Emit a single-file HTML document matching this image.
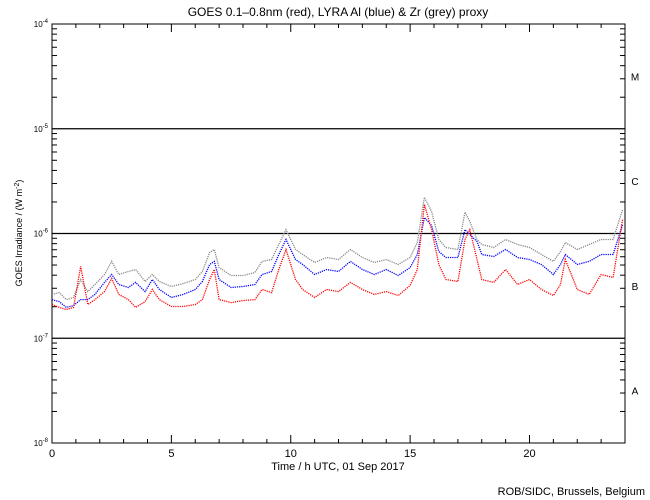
<!DOCTYPE html>
<html><head><meta charset="utf-8"><style>
body{margin:0;background:#fff;width:650px;height:500px;overflow:hidden}
svg{display:block;font-family:"Liberation Sans",sans-serif}
</style></head><body>
<svg id="chart" width="650" height="500">
<text x="338" y="16" font-size="12" text-anchor="middle">GOES 0.1–0.8nm (red), LYRA Al (blue) &amp; Zr (grey) proxy</text>
<text transform="translate(22,233) rotate(-90)" font-size="9" text-anchor="middle">GOES Irradiance / (W m<tspan dy="-3" font-size="7">-2</tspan><tspan dy="3">)</tspan></text>
<text x="338" y="470" font-size="11" text-anchor="middle">Time / h UTC, 01 Sep 2017</text>
<text x="645" y="495" font-size="11" text-anchor="end">ROB/SIDC, Brussels, Belgium</text>
<g id="axes"></g>
<g id="series"></g>
</svg>
<script>
const times=[0,0.3,0.6,0.9,1.2,1.5,1.8,2.2,2.5,2.8,3.2,3.5,3.9,4.2,4.5,5,5.5,6,6.3,6.6,6.8,7,7.5,8,8.5,8.8,9.2,9.5,9.8,10.2,10.5,11,11.5,12,12.5,13,13.5,14,14.5,15,15.3,15.6,15.9,16.2,16.5,17,17.3,17.5,17.8,18,18.5,19,19.5,20,20.5,21,21.3,21.5,22,22.5,23,23.5,23.9];
// values in units of 1e-7 W/m^2
const goesRed=[2.10,1.97,1.88,1.97,4.84,2.10,2.34,2.79,3.72,2.62,2.34,1.97,2.24,2.92,2.34,2.01,2.01,2.10,2.34,3.64,4.53,2.34,2.19,2.29,2.34,2.92,2.73,4.53,7.03,3.64,2.92,2.45,2.92,2.79,3.41,2.92,2.62,2.79,2.56,3.19,4.53,18.9,10.9,5.06,3.64,3.48,8.77,10.9,5.65,3.64,3.41,4.53,3.26,3.64,2.92,2.56,3.26,5.65,2.92,2.62,4.06,3.80,13.6];
const lyraAl=[2.34,2.24,1.97,2.05,2.34,2.34,2.62,3.41,4.06,3.26,3.05,3.41,2.79,3.64,2.92,2.45,2.62,2.92,3.48,5.06,5.41,3.64,3.05,3.12,3.26,4.06,4.34,6.30,8.77,5.65,5.06,4.06,4.53,4.34,5.41,4.53,4.06,4.53,3.97,4.73,6.30,14.2,11.9,6.73,5.90,5.90,10.9,9.78,8.39,6.30,6.03,7.03,5.90,5.65,5.06,4.06,5.06,6.30,5.06,5.41,6.30,6.30,12.2];
const lyraZr=[2.62,2.73,2.34,2.45,3.64,2.79,3.26,4.06,5.41,4.06,4.34,4.53,3.48,4.06,3.48,3.12,3.33,3.64,4.34,6.59,7.03,4.73,3.97,3.97,4.24,5.41,5.65,7.85,10.9,7.03,6.30,5.29,5.90,5.65,7.03,5.90,5.29,5.65,5.06,5.90,8.21,22.1,16.2,8.77,7.35,7.03,16.0,13.0,8.77,7.85,7.35,8.77,7.85,7.35,6.30,5.41,6.73,8.21,7.03,7.85,8.77,8.77,16.9];
const xTicks=[0,5,10,15,20];
const yExps=[-8,-7,-6,-5,-4];
const classLabels=["A","B","C","M"];

const NS="http://www.w3.org/2000/svg";
const X0=52,X1=625,Y0=24,Y1=443;
const xs=t=>X0+t/24*(X1-X0);
const ys=v=>Y1-(Math.log10(v*1e-7)+8)/4*(Y1-Y0);
const ye=e=>Y1-(e+8)/4*(Y1-Y0);
function mk(tag,attrs,parent){const el=document.createElementNS(NS,tag);for(const k in attrs)el.setAttribute(k,attrs[k]);parent.appendChild(el);return el;}
const ax=document.getElementById('axes');
let frame=mk('rect',{x:X0,y:Y0,width:X1-X0,height:Y1-Y0,fill:'none',stroke:'#000','stroke-width':1},ax);


yExps.forEach((e,i)=>{
  const y=ye(e);
  if(e>-8&&e<-4){let l=mk('line',{x1:X0,x2:X1,y1:y,y2:y,stroke:'#000','stroke-width':1.2},ax);
    
    }
  let t=mk('text',{x:X0-4,y:y+3,'font-size':8,'text-anchor':'end'},ax);
  t.innerHTML='10<tspan dy="-4" font-size="6">'+e+'</tspan>';
  
  
  if(e<-4){for(let m=2;m<=9;m++){const yy=ye(e+Math.log10(m));
    mk('line',{x1:X0,x2:X0+5,y1:yy,y2:yy,stroke:'#000'},ax);
    mk('line',{x1:X1,x2:X1-5,y1:yy,y2:yy,stroke:'#000'},ax);}}
});
classLabels.forEach((c,i)=>{
  let t=mk('text',{x:635,y:(ye(-8+i)+ye(-7+i))/2+4,'font-size':10,'text-anchor':'middle'},ax);
  t.textContent=c;
  
  
});
for(let h=0;h<=24;h++){const x=xs(h);const big=h%5===0;
  mk('line',{x1:x,x2:x,y1:Y1,y2:Y1-(big?8:4),stroke:'#000'},ax);
  mk('line',{x1:x,x2:x,y1:Y0,y2:Y0+(big?8:4),stroke:'#000'},ax);}
xTicks.forEach(h=>{
  let t=mk('text',{x:xs(h),y:457,'font-size':11,'text-anchor':'middle'},ax);
  t.textContent=h;
  
  
});
const sg=document.getElementById('series');
[[lyraZr,'#888','lyra-zr-series'],[lyraAl,'#0000ff','lyra-al-series'],[goesRed,'#ff0000','goes-series']].forEach(([arr,col,name])=>{
  const pts=arr.map((v,i)=>xs(times[i]).toFixed(1)+','+ys(v).toFixed(1)).join(' ');
  let p=mk('polyline',{points:pts,fill:'none',stroke:col,'stroke-width':1.3,'stroke-dasharray':'1.2 1'},sg);
  
  
});
</script>
</body></html>
